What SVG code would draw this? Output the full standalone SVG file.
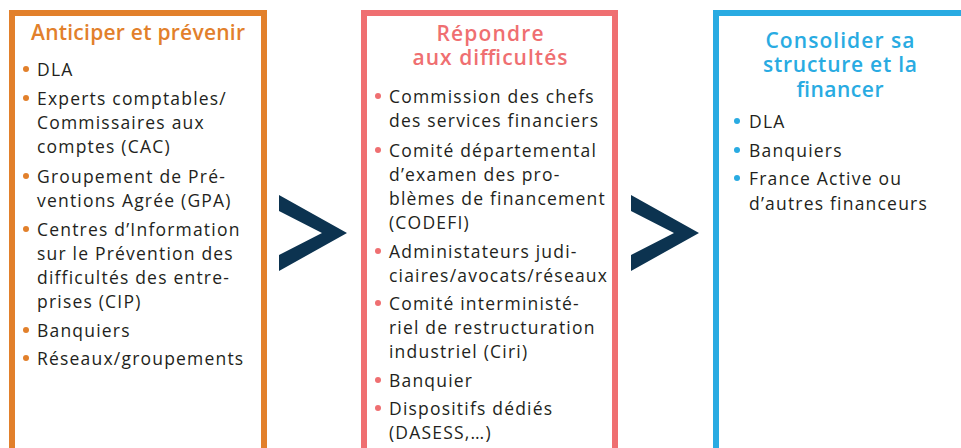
<svg xmlns="http://www.w3.org/2000/svg" width="961" height="448" viewBox="0 0 961 448">
  <style>
    .frame { fill: none; stroke-width: 6; }
    .title { font-family: "Open Sans", "Noto Sans", sans-serif; font-weight: 600; font-size: 21px; text-anchor: middle; }
    .item { font-family: "Open Sans", "Noto Sans", sans-serif; font-size: 17.5px; letter-spacing: 1.2px; fill: #231f20; }
    .orange { stroke: #e2802b; }
    .pink { stroke: #ef6f71; }
    .blue { stroke: #29abe2; }
    .t-orange { fill: #e2802b; }
    .t-pink { fill: #ef6f71; }
    .t-blue { fill: #29abe2; }
    .chev { fill: #0c3350; }
  </style>
  <rect width="961" height="448" fill="#ffffff"/>

  <!-- Column 1 -->
  <g id="node-anticiper">
    <path class="frame orange" d="M12,460 V13 H264 V460"/>
    <text class="title t-orange" x="138" y="40" textLength="214">Anticiper et prévenir</text>
    <g class="t-orange">
      <circle cx="26" cy="69" r="3"/>
      <circle cx="26" cy="98" r="3"/>
      <circle cx="26" cy="176" r="3"/>
      <circle cx="26" cy="229" r="3"/>
      <circle cx="26" cy="330" r="3"/>
      <circle cx="26" cy="358" r="3"/>
    </g>
    <text class="item" x="37" y="76">DLA</text>
    <text class="item" x="37" y="105">Experts comptables/</text>
    <text class="item" x="37" y="129">Commissaires aux</text>
    <text class="item" x="37" y="153">comptes (CAC)</text>
    <text class="item" x="37" y="183">Groupement de Pré-</text>
    <text class="item" x="37" y="207">ventions Agrée (GPA)</text>
    <text class="item" x="37" y="236">Centres d’Information</text>
    <text class="item" x="37" y="260">sur le Prévention des</text>
    <text class="item" x="37" y="284">difficultés des entre-</text>
    <text class="item" x="37" y="308">prises (CIP)</text>
    <text class="item" x="37" y="337">Banquiers</text>
    <text class="item" x="37" y="365">Réseaux/groupements</text>
  </g>

  <!-- Column 2 -->
  <g id="node-repondre">
    <path class="frame pink" d="M364,460 V13 H615 V460"/>
    <text class="title t-pink" x="490" y="41" textLength="107">Répondre</text>
    <text class="title t-pink" x="490" y="65" textLength="155">aux difficultés</text>
    <g class="t-pink">
      <circle cx="378" cy="96" r="3"/>
      <circle cx="378" cy="150" r="3"/>
      <circle cx="378" cy="251" r="3"/>
      <circle cx="378" cy="303" r="3"/>
      <circle cx="378" cy="380" r="3"/>
      <circle cx="378" cy="408" r="3"/>
    </g>
    <text class="item" x="389" y="103">Commission des chefs</text>
    <text class="item" x="389" y="127">des services financiers</text>
    <text class="item" x="389" y="157">Comité départemental</text>
    <text class="item" x="389" y="181">d’examen des pro-</text>
    <text class="item" x="389" y="205">blèmes de financement</text>
    <text class="item" x="389" y="229">(CODEFI)</text>
    <text class="item" x="389" y="258">Administateurs judi-</text>
    <text class="item" x="389" y="282">ciaires/avocats/réseaux</text>
    <text class="item" x="389" y="310">Comité interministé-</text>
    <text class="item" x="389" y="334">riel de restructuration</text>
    <text class="item" x="389" y="358">industriel (Ciri)</text>
    <text class="item" x="389" y="387">Banquier</text>
    <text class="item" x="389" y="415">Dispositifs dédiés</text>
    <text class="item" x="389" y="439">(DASESS,…)</text>
  </g>

  <!-- Column 3 -->
  <g id="node-consolider">
    <path class="frame blue" d="M716,460 V13 H970"/>
    <text class="title t-blue" x="840" y="48" textLength="149">Consolider sa</text>
    <text class="title t-blue" x="840" y="72" textLength="154">structure et la</text>
    <text class="title t-blue" x="840" y="97" textLength="87">financer</text>
    <g class="t-blue">
      <circle cx="737" cy="121" r="3"/>
      <circle cx="737" cy="150" r="3"/>
      <circle cx="737" cy="178" r="3"/>
    </g>
    <text class="item" x="749" y="128">DLA</text>
    <text class="item" x="749" y="157">Banquiers</text>
    <text class="item" x="749" y="185">France Active ou</text>
    <text class="item" x="749" y="210">d’autres financeurs</text>
  </g>

  <!-- Chevrons between columns -->
  <g id="connectors">
    <polygon class="chev" points="279,195 347,233 279,271 279,255 322,233 279,211"/>
    <polygon class="chev" points="631,195 699,233 631,271 631,255 674,233 631,211"/>
  </g>
</svg>
